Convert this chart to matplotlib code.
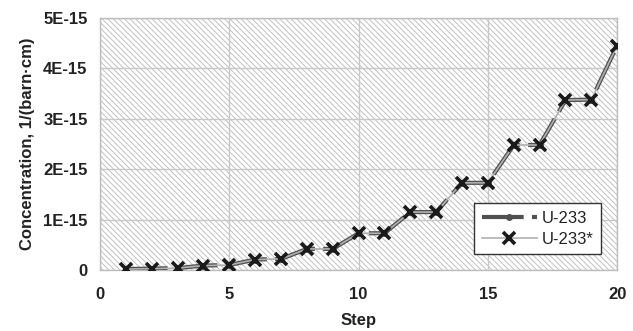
import matplotlib
matplotlib.use("Agg")
import matplotlib.pyplot as plt
from matplotlib.patches import Rectangle

plt.rcParams['font.family'] = ['Liberation Sans Narrow', 'Liberation Sans', 'DejaVu Sans']
plt.rcParams['hatch.linewidth'] = 0.6
plt.rcParams['hatch.color'] = '#b8b8b8'

steps = list(range(1, 21))
u233 = [0.02e-15, 0.03e-15, 0.04e-15, 0.09e-15, 0.10e-15, 0.21e-15, 0.22e-15, 0.42e-15,
        0.42e-15, 0.73e-15, 0.73e-15, 1.15e-15, 1.15e-15, 1.73e-15, 1.73e-15, 2.48e-15,
        2.48e-15, 3.37e-15, 3.38e-15, 4.45e-15]
u233s = list(u233)
xticks = [0, 5, 10, 15, 20]
yticks = [0, 1e-15, 2e-15, 3e-15, 4e-15, 5e-15]
ylabels = ['0', '1E-15', '2E-15', '3E-15', '4E-15', '5E-15']

fig = plt.figure(figsize=(6.33, 3.31), dpi=100)
ax = fig.add_axes([0.158, 0.184, 0.817, 0.762])
ax.add_patch(Rectangle((0, 0), 1, 1, transform=ax.transAxes, facecolor='white',
                       edgecolor='#b8b8b8', hatch='\\' * 6, linewidth=0, zorder=0))

ax.plot(steps, u233, color='#505050', lw=3, dashes=(10, 2), marker='o', ms=4,
        mfc='#505050', mec='#505050', label='U-233', zorder=3)
ax.plot(steps, u233s, color='#b0b0b0', lw=1.2, marker='x', ms=9, mew=2.6,
        mec='#1a1a1a', label='U-233*', zorder=4)

ax.set_xlim(0, 20)
ax.set_ylim(0, 5e-15)
ax.set_xticks(xticks)
ax.set_xticklabels([str(t) for t in xticks])
ax.set_yticks(yticks)
ax.set_yticklabels(ylabels)
ax.grid(True, color='#c8c8c8', lw=1, zorder=1)
ax.set_axisbelow(True)
for s in ax.spines.values():
    s.set_color('#bdbdbd')
    s.set_linewidth(1)
ax.tick_params(length=0, labelsize=12, pad=12)
ax.tick_params(axis='y', pad=9)
for lbl in ax.get_xticklabels() + ax.get_yticklabels():
    lbl.set_fontweight('bold')
    lbl.set_color('#222222')
ax.set_xlabel('Step', fontsize=12, fontweight='bold', color='#222222', labelpad=8)
ax.set_ylabel('Concentration, 1/(barn·cm)', fontsize=12, fontweight='bold',
              color='#222222', labelpad=6)

leg = ax.legend(loc='lower right', bbox_to_anchor=(0.985, 0.03), fontsize=12,
                frameon=True, fancybox=False, framealpha=1, edgecolor='#333333',
                handlelength=3.3, borderpad=0.45, labelspacing=0.35, handletextpad=0.3)
leg.get_frame().set_linewidth(1)
for t in leg.get_texts():
    t.set_color('#222222')

fig.savefig('out.png', dpi=100)
